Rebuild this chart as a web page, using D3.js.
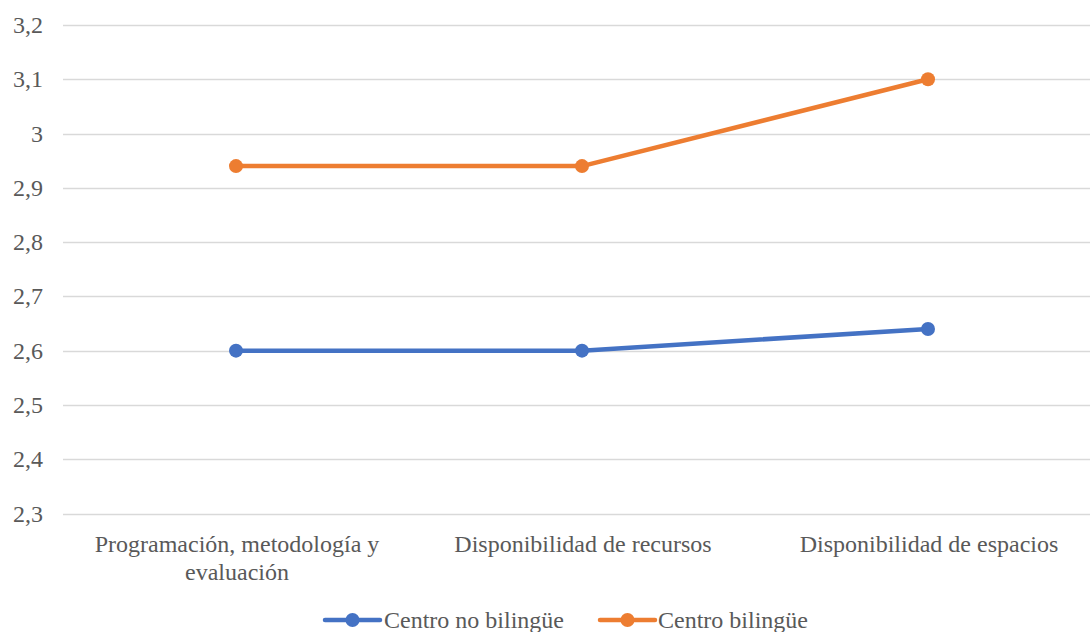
<!DOCTYPE html>
<html>
<head>
<meta charset="utf-8">
<script src="https://cdn.jsdelivr.net/npm/d3@7"></script>
</head>
<body style="margin:0">
<svg id="s" width="1090" height="632"></svg>
<script>
// Categories (each label split into its display lines)
const categories = ["Programación, metodología y evaluación", "Disponibilidad de recursos", "Disponibilidad de espacios"];
const categoryLines = [["Programación, metodología y", "evaluación"], ["Disponibilidad de recursos"], ["Disponibilidad de espacios"]];
const seriesNames = ["Centro no bilingüe", "Centro bilingüe"];
const noBilingue = [2.6, 2.6, 2.64];
const bilingue = [2.94, 2.94, 3.1];
const yTicks = [2.3, 2.4, 2.5, 2.6, 2.7, 2.8, 2.9, 3.0, 3.1, 3.2];
const colors = ["#4472C4", "#ED7D31"];

const FONT = "Liberation Serif";
const FS = 24;
const TEXT = "#595959";

const svg = d3.select("#s");
const W = 1090;

const x = d3.scaleBand().domain(categories).range([63, 1101]);
const y = d3.scaleLinear().domain([2.3, 3.2]).range([513.5, 25]);

const fmt = v => d3.format(".1~f")(v).replace(".", ",");

const styleText = sel => sel
  .attr("font-family", FONT).attr("font-size", FS).attr("fill", TEXT);

// horizontal gridlines
svg.append("g").selectAll("line").data(yTicks).join("line")
  .attr("x1", 63).attr("x2", W)
  .attr("y1", d => Math.round(y(d)) + 0.5).attr("y2", d => Math.round(y(d)) + 0.5)
  .attr("stroke", "#d9d9d9").attr("stroke-width", 1.5);

// y tick labels
svg.append("g").selectAll("text").data(yTicks).join("text")
  .attr("x", 43).attr("y", d => y(d) + 8)
  .attr("text-anchor", "end")
  .call(styleText)
  .text(fmt);

// category labels
const cat = svg.append("g").selectAll("text").data(categories).join("text")
  .attr("text-anchor", "middle")
  .call(styleText);
cat.each(function(d, i) {
  const t = d3.select(this);
  categoryLines[i].forEach((ln, j) => {
    t.append("tspan").attr("x", x(d) + x.bandwidth() / 2 + 1).attr("y", 552 + j * 28).text(ln);
  });
});

const cx = d => x(d) + x.bandwidth() / 2;
const series = [noBilingue, bilingue];
const line = d3.line().x((d, i) => cx(categories[i])).y(d => y(d));

series.forEach((vals, s) => {
  svg.append("path").datum(vals)
    .attr("d", line).attr("fill", "none")
    .attr("stroke", colors[s]).attr("stroke-width", 4.5)
    .attr("stroke-linejoin", "round").attr("stroke-linecap", "round");
  svg.append("g").selectAll("circle").data(vals).join("circle")
    .attr("cx", (d, i) => cx(categories[i])).attr("cy", d => y(d))
    .attr("r", 7).attr("fill", colors[s]);
});

// legend
const legendItems = [{x0: 325, tx: 384}, {x0: 600, tx: 658}];
legendItems.forEach((it, s) => {
  const g = svg.append("g");
  g.append("line").attr("x1", it.x0).attr("x2", it.x0 + 55)
    .attr("y1", 620).attr("y2", 620)
    .attr("stroke", colors[s]).attr("stroke-width", 4.5).attr("stroke-linecap", "round");
  g.append("circle").attr("cx", it.x0 + 27.5).attr("cy", 620).attr("r", 7).attr("fill", colors[s]);
  g.append("text").attr("x", it.tx).attr("y", 628)
    .call(styleText)
    .text(seriesNames[s]);
});
</script>
</body>
</html>
